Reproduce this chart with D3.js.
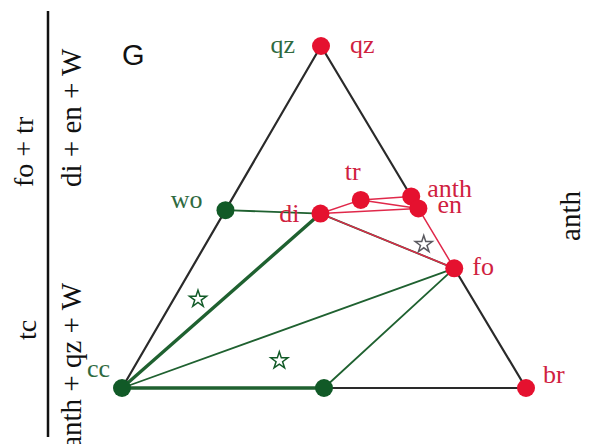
<!DOCTYPE html>
<html>
<head>
<meta charset="utf-8">
<script src="https://cdn.jsdelivr.net/npm/d3@7"></script>
<style>
  html, body { margin: 0; padding: 0; background: #fff; }
  svg { display: block; }
</style>
</head>
<body>
<svg id="chart" width="590" height="444"></svg>
<script>
// ---- data: ternary compositions (fractions of qz, br; cc = remainder) ----
const phases   = ["qz", "wo", "di", "tr", "anth", "en", "fo", "br", "cc", "dol"];
const qzFrac   = [1.00, 0.52, 0.51, 0.55, 0.56, 0.525, 0.35, 0.00, 0.00, 0.00];
const brFrac   = [0.00, 0.00, 0.24, 0.32, 0.44, 0.475, 0.65, 1.00, 0.00, 0.50];
const phaseSet = ["red", "green", "red", "red", "red", "red", "red", "red", "green", "green"];

// labels shown next to points (phase, text, colour set)
const pointLabels = [
  ["qz", "qz", "green"], ["qz", "qz", "red"], ["wo", "wo", "green"], ["di", "di", "red"],
  ["tr", "tr", "red"], ["anth", "anth", "red"], ["en", "en", "red"], ["fo", "fo", "red"],
  ["br", "br", "red"], ["cc", "cc", "green"]
];

// triangle edges and tie-lines
const edges     = [["qz", "cc"], ["qz", "anth"], ["fo", "br"], ["cc", "br"]];
const greenTies = [["wo", "di"], ["cc", "fo"], ["dol", "fo"], ["di", "fo"]];
const greenThick = [["cc", "di"], ["cc", "dol"]];
const redTies   = [["di", "tr"], ["di", "en"], ["tr", "anth"], ["tr", "en"], ["anth", "en"], ["en", "fo"], ["di", "fo"]];

// stars (bulk compositions)
const starQz  = [0.26, 0.08, 0.42];
const starBr  = [0.06, 0.35, 0.54];
const starSet = ["green", "green", "grey"];

// side annotations
const leftOuter = ["fo + tr", "tc"];
const leftInner = ["di + en + W", "anth + qz + W"];
const rightLabel = "anth";
const panelLetter = "G";

// ---- layout ----
const svg = d3.select("#chart");
const apexShift = 0.4926;
const x = d3.scaleLinear().domain([0, 1]).range([122, 526]);
const y = d3.scaleLinear().domain([0, 1]).range([388, 46]);

const colors = { red: "#e5112f", green: "#115a27", grey: "#5a5a60" };
const textColors = { red: "#d0213f", green: "#2f6a3f" };
const lineColors = { red: "#e0284a", green: "#1f6130" };

const pos = {};
phases.forEach((p, i) => {
  const q = qzFrac[i], b = brFrac[i];
  pos[p] = [x(b + apexShift * q), y(q)];
});
const setOf = {};
phases.forEach((p, i) => setOf[p] = phaseSet[i]);

const serif = "'Liberation Serif', 'Times New Roman', serif";

// vertical divider on the left
svg.append("line").attr("x1", 48).attr("x2", 48).attr("y1", 11).attr("y2", 437)
  .attr("stroke", "#111").attr("stroke-width", 2.5);

function vtext(txt, tx, ty, anchor, size) {
  svg.append("text").attr("transform", `translate(${tx},${ty}) rotate(-90)`)
    .attr("text-anchor", anchor).attr("font-family", serif).attr("font-size", size)
    .attr("fill", "#111").text(txt);
}
vtext(leftOuter[0], 33, 187, "start", 28);
vtext(leftOuter[1], 36, 330, "middle", 28);
vtext(leftInner[0], 81, 187, "start", 29);
vtext(leftInner[1], 81, 283, "end", 29);
vtext(rightLabel, 580, 216, "middle", 29);

svg.append("text").attr("x", 122).attr("y", 65)
  .attr("font-family", "'Liberation Sans', Arial, sans-serif").attr("font-size", 29)
  .attr("fill", "#111").text(panelLetter);

const line = (a, b) => ({ x1: pos[a][0], y1: pos[a][1], x2: pos[b][0], y2: pos[b][1] });

function drawLines(list, stroke, width) {
  svg.append("g").selectAll("line").data(list).join("line")
    .attr("x1", d => line(d[0], d[1]).x1).attr("y1", d => line(d[0], d[1]).y1)
    .attr("x2", d => line(d[0], d[1]).x2).attr("y2", d => line(d[0], d[1]).y2)
    .attr("stroke", stroke).attr("stroke-width", width).attr("stroke-linecap", "round");
}

drawLines(edges, "#2a2a2a", 2.2);
drawLines(greenTies, lineColors.green, 1.8);
drawLines(greenThick, lineColors.green, 3.4);
drawLines(redTies, lineColors.red, 1.5);

// stars
svg.append("g").selectAll("path").data(starQz).join("path")
  .attr("d", d3.symbol().type(d3.symbolStar).size(90))
  .attr("transform", (d, i) => `translate(${x(starBr[i] + apexShift * d)},${y(d)})`)
  .attr("fill", "none").attr("stroke", (d, i) => colors[starSet[i]]).attr("stroke-width", 1.5);

// points
svg.append("g").selectAll("circle").data(phases).join("circle")
  .attr("cx", d => pos[d][0]).attr("cy", d => pos[d][1]).attr("r", 9)
  .attr("fill", d => colors[setOf[d]]);

// point labels (offsets are presentation only)
const labelStyle = {
  "qz|green": [-26, 7, "end"], "qz|red": [29, 7, "start"], "wo|green": [-23, -2, "end"],
  "di|red": [-21, 8, "end"], "tr|red": [-16, -20, "start"], "anth|red": [16, 1, "start"],
  "en|red": [19, 5, "start"], "fo|red": [18, 7, "start"], "br|red": [17, -5, "start"],
  "cc|green": [-12, -11, "end"]
};
svg.append("g").selectAll("text").data(pointLabels).join("text")
  .attr("x", d => pos[d[0]][0] + labelStyle[d[0] + "|" + d[2]][0])
  .attr("y", d => pos[d[0]][1] + labelStyle[d[0] + "|" + d[2]][1])
  .attr("text-anchor", d => labelStyle[d[0] + "|" + d[2]][2])
  .attr("font-family", serif).attr("font-size", 26)
  .attr("fill", d => textColors[d[2]]).text(d => d[1]);
</script>
</body>
</html>
